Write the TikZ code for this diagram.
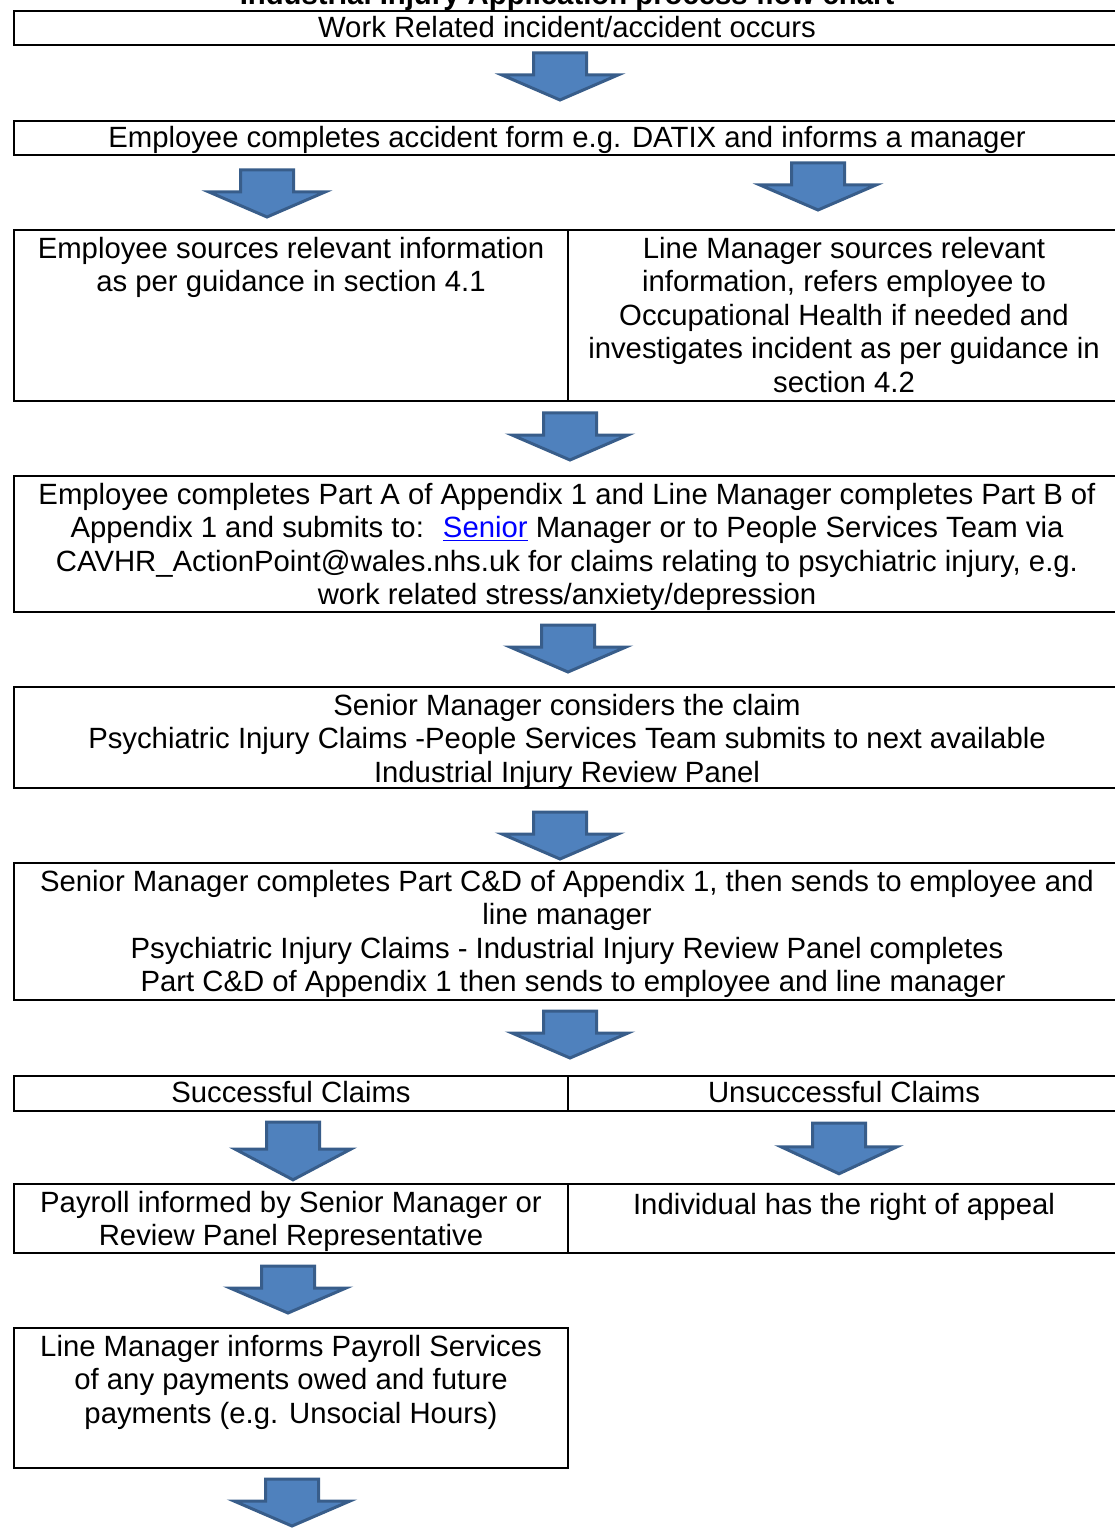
\documentclass[tikz,border=0pt]{standalone}
\usepackage{fontspec}
\setmainfont{Liberation Sans}
\usepackage{xcolor}
\usepackage{tikz}
\usetikzlibrary{positioning, calc}

\definecolor{arrowblue}{HTML}{4F81BD}
\definecolor{arrowedge}{HTML}{385D8A}
\definecolor{linkblue}{HTML}{0000FF}

\begin{document}
\begin{tikzpicture}[x=0.5pt, y=-0.5pt,
  font=\fontsize{14.65}{16.75}\selectfont,
  cell/.style={draw, line width=1pt, inner sep=0pt, anchor=north west},
  txt/.style={anchor=north, inner sep=0pt, yshift=-3.8pt, align=center, execute at begin node=\strut},
  rowtxt/.style={txt, yshift=2pt},
  downarrow/.pic={\draw[fill=arrowblue, draw=arrowedge, line width=1.5pt, line join=miter]
    (-26.5,0) -- (26.5,0) -- (26.5,22) -- (58,22) -- (0,47) -- (-58,22) -- (-26.5,22) -- cycle;}]
\useasboundingbox (0,0) rectangle (1114,1534);

% title, cut by the page
\node[font=\fontsize{14.65}{16.75}\selectfont\bfseries, anchor=base] (title) at (567,5) {Industrial Injury Application process flow chart};

% incident
\node[cell, minimum width=553pt, minimum height=17pt] (work) at (13,10) {};
\node[rowtxt] (workt) at (work.north) {Work Related incident/accident occurs};
\pic at (560,53) {downarrow};

% accident form
\node[cell, minimum width=553pt, minimum height=17pt] (form) at (13,120) {};
\node[rowtxt] (formt) at (form.north) {Employee completes accident form e.g. DATIX and informs a manager};
\pic at (267,170) {downarrow};
\pic at (818,163) {downarrow};

% information gathering
\node[cell, minimum width=277pt, minimum height=85.5pt] (empinfo) at (13,229) {};
\node[cell, minimum width=276pt, minimum height=85.5pt] (lminfo) at (567,229) {};
\node[txt] (empinfot) at (empinfo.north) {Employee sources relevant information\\as per guidance in section 4.1};
\node[txt] (lminfot) at (lminfo.north) {Line Manager sources relevant\\information, refers employee to\\Occupational Health if needed and\\investigates incident as per guidance in\\section 4.2};
\pic at (570,413) {downarrow};

% appendix 1 parts A and B
\node[cell, minimum width=553pt, minimum height=68pt] (parts) at (13,475) {};
\node[txt] (partst) at (parts.north) {Employee completes Part A of Appendix 1 and Line Manager completes Part B of\\Appendix 1 and submits to:~ \textcolor{linkblue}{\underline{Senior}} Manager or to People Services Team via\\CAVHR\_ActionPoint@wales.nhs.uk for claims relating to psychiatric injury, e.g.\\work related stress/anxiety/depression};
\pic at (568,625) {downarrow};

% senior manager
\node[cell, minimum width=553pt, minimum height=50.5pt] (senior) at (13,686) {};
\node[txt] (seniort) at (senior.north) {Senior Manager considers the claim\\Psychiatric Injury Claims -People Services Team submits to next available\\Industrial Injury Review Panel};
\pic at (560,812) {downarrow};

% parts C and D
\node[cell, minimum width=553pt, minimum height=68.5pt] (partcd) at (13,862) {};
\node[txt] (partcdt) at (partcd.north) {Senior Manager completes Part C\&D of Appendix 1, then sends to employee and\\line manager\\Psychiatric Injury Claims - Industrial Injury Review Panel completes\\\hspace*{6pt}Part C\&D of Appendix 1 then sends to employee and line manager};
\pic at (570,1011) {downarrow};

% outcome
\node[cell, minimum width=277pt, minimum height=17.5pt] (succ) at (13,1075) {};
\node[cell, minimum width=276pt, minimum height=17.5pt] (unsucc) at (567,1075) {};
\node[rowtxt] (succt) at (succ.north) {Successful Claims};
\node[rowtxt] (unsucct) at (unsucc.north) {Unsuccessful Claims};
\pic[yscale=1.23] at (293,1122) {downarrow};
\pic[yscale=1.08] at (839,1123) {downarrow};

% payroll / appeal
\node[cell, minimum width=277pt, minimum height=34.5pt] (payroll) at (13,1183) {};
\node[cell, minimum width=276pt, minimum height=34.5pt] (appeal) at (567,1183) {};
\node[txt] (payrollt) at (payroll.north) {Payroll informed by Senior Manager or\\Review Panel Representative};
\node[txt] (appealt) at (appeal.north) {Individual has the right of appeal};
\pic at (288,1266) {downarrow};

% payments
\node[cell, minimum width=277pt, minimum height=70pt] (lmpay) at (13,1327) {};
\node[txt] (lmpayt) at (lmpay.north) {Line Manager informs Payroll Services\\of any payments owed and future\\payments (e.g. Unsocial Hours)};
\pic at (292,1479) {downarrow};
\end{tikzpicture}
\end{document}
